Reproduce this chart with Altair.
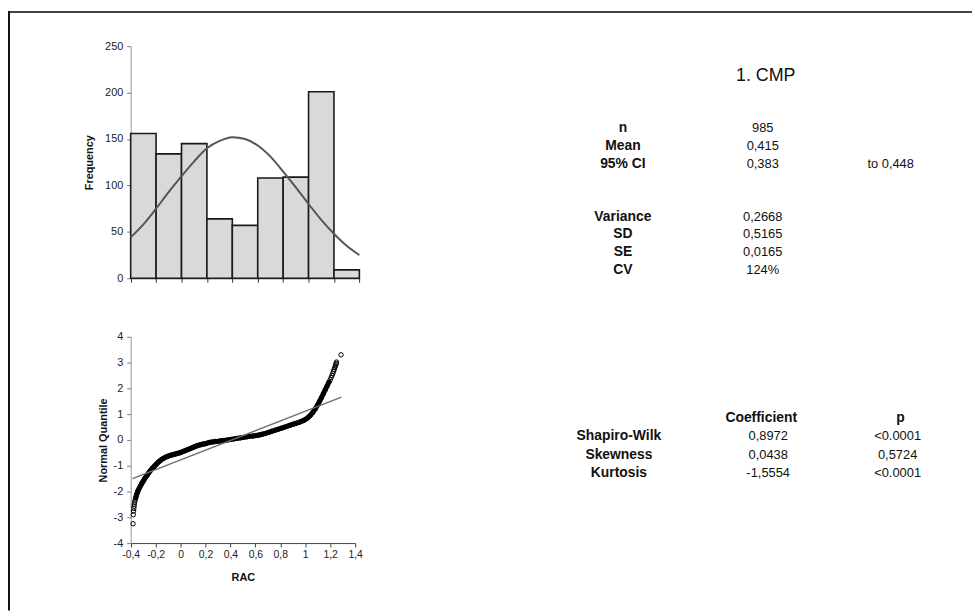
import altair as alt
import pandas as pd

# ---------------- data ----------------
# Histogram of RAC
bin_start = [-0.4, -0.2, 0.0, 0.2, 0.4, 0.6, 0.8, 1.0, 1.2]
bin_end = [-0.2, 0.0, 0.2, 0.4, 0.6, 0.8, 1.0, 1.2, 1.4]
frequency = [156, 134, 145, 64, 57, 108, 109, 201, 9]

# Fitted normal curve over the histogram
curve_rac = [-0.4, -0.3, -0.2, -0.1, 0.0, 0.1, 0.2, 0.3, 0.4, 0.5,
             0.6, 0.7, 0.8, 0.9, 1.0, 1.1, 1.2, 1.3, 1.4]
curve_freq = [44, 58, 75, 93, 110, 126, 140, 148, 152, 150,
              143, 131, 115, 98, 80, 63, 48, 35, 25]

# Normal quantile plot (RAC vs normal quantile)
qq_rac = [-0.381, -0.379, -0.377, -0.375, -0.373, -0.371, -0.368, -0.364, -0.360, -0.355,
          -0.350, -0.345, -0.340, -0.330,
          -0.320, -0.310, -0.300, -0.290, -0.280, -0.270, -0.260, -0.250, -0.240, -0.230,
          -0.220, -0.210, -0.200, -0.190, -0.180, -0.170, -0.160, -0.150, -0.135, -0.120,
          -0.105, -0.090, -0.075, -0.060, -0.045, -0.030, -0.015, 0.000, 0.015, 0.030,
          0.045, 0.060, 0.075, 0.090, 0.105, 0.120, 0.135, 0.150, 0.165, 0.180,
          0.195, 0.210, 0.230, 0.255, 0.280, 0.305, 0.330, 0.355, 0.380, 0.405,
          0.430, 0.455, 0.480, 0.505, 0.530, 0.555, 0.580, 0.605, 0.630, 0.655,
          0.680, 0.705, 0.730, 0.755, 0.780, 0.805, 0.830, 0.855, 0.880, 0.905,
          0.930, 0.955, 0.980, 1.000, 1.020, 1.040, 1.060, 1.080, 1.100, 1.115,
          1.130, 1.145, 1.160, 1.175, 1.190, 1.200, 1.208, 1.215, 1.221, 1.227,
          1.232, 1.237, 1.241, 1.245, 1.248, 1.251, 1.287]
qq_quantile = [-3.25, -2.90, -2.76, -2.66, -2.57, -2.49, -2.41, -2.33, -2.25, -2.17,
               -2.09, -2.02, -1.96, -1.86,
               -1.77, -1.68, -1.60, -1.52, -1.45, -1.38, -1.31, -1.24, -1.18, -1.12,
               -1.07, -1.02, -0.97, -0.92, -0.87, -0.83, -0.79, -0.75, -0.71, -0.67,
               -0.64, -0.61, -0.59, -0.57, -0.55, -0.53, -0.51, -0.49, -0.46, -0.43,
               -0.40, -0.37, -0.34, -0.31, -0.28, -0.25, -0.22, -0.20, -0.18, -0.16,
               -0.15, -0.13, -0.10, -0.08, -0.06, -0.05, -0.03, -0.02, 0.00, 0.02,
               0.04, 0.06, 0.08, 0.10, 0.12, 0.14, 0.15, 0.17, 0.19, 0.22,
               0.25, 0.29, 0.33, 0.37, 0.41, 0.45, 0.49, 0.53, 0.57, 0.61,
               0.65, 0.69, 0.74, 0.79, 0.86, 0.95, 1.06, 1.20, 1.36, 1.50,
               1.64, 1.79, 1.94, 2.09, 2.24, 2.33, 2.42, 2.50, 2.58, 2.66,
               2.73, 2.80, 2.86, 2.92, 2.97, 3.02, 3.30]
ref_rac = [-0.385, 1.29]
ref_quantile = [-1.50, 1.66]

# Summary statistics table
chart_title = "1. CMP"
stat_labels = ["n", "Mean", "95% CI", "", "", "Variance", "SD", "SE", "CV"]
stat_values = ["985", "0,415", "0,383", "", "", "0,2668", "0,5165", "0,0165", "124%"]
ci_upper = "to 0,448"

# Normality tests table
test_header = ["Coefficient", "p"]
test_names = ["Shapiro-Wilk", "Skewness", "Kurtosis"]
test_coef = ["0,8972", "0,0438", "-1,5554"]
test_p = ["<0.0001", "0,5724", "<0.0001"]

# ---------------- layout ----------------
W, H = 972, 605
FONT = "Liberation Sans"

hist_df = pd.DataFrame({"start": bin_start, "end": bin_end, "freq": frequency})
curve_df = pd.DataFrame({"rac": curve_rac, "freq": curve_freq})
qq_df = pd.DataFrame({"rac": qq_rac, "q": qq_quantile})
ref_df = pd.DataFrame({"rac": ref_rac, "q": ref_quantile})
edges = bin_start + [bin_end[-1]]

lab_style = dict(grid=False, labelFont=FONT, labelColor="#222", labelOverlap=False,
                 labelFlush=False)
ttl_style = dict(titleFont=FONT, titleFontSize=11, titleFontWeight="bold", titleColor="#111")


def hx():
    return alt.Scale(domain=[-0.4, 1.4], range=[123.7, 354.3], nice=False, zero=False)


def hy():
    return alt.Scale(domain=[0, 250], range=[270, 36], nice=False, zero=False)


def qx():
    return alt.Scale(domain=[-0.4, 1.4], range=[123.7, 350], nice=False, zero=False)


def qy():
    return alt.Scale(domain=[-4, 4], range=[537, 329], nice=False, zero=False)


# --- histogram ---
bars = alt.Chart(hist_df).mark_rect(fill="#d9d9d9", stroke="#1a1a1a", strokeWidth=1.6).encode(
    x=alt.X("start:Q", scale=hx(),
            axis=alt.Axis(orient="bottom", offset=270 - H, values=edges, labels=False,
                          tickSize=4, tickColor="#333", domainColor="#333", title=None,
                          **lab_style)),
    x2="end:Q",
    y=alt.Y("freq:Q", scale=hy(),
            axis=alt.Axis(orient="left", offset=-123.7, values=[0, 50, 100, 150, 200, 250],
                          tickSize=4, tickColor="#777", domainColor="#999", labelFontSize=11,
                          labelPadding=4, title="Frequency", titleX=-41,
                          titleBaseline="middle", **lab_style, **ttl_style)),
    y2=alt.datum(0),
)
curve = alt.Chart(curve_df).mark_line(color="#555", strokeWidth=2, interpolate="monotone").encode(
    x=alt.X("rac:Q", scale=hx(), axis=None),
    y=alt.Y("freq:Q", scale=hy(), axis=None),
)

# --- normal quantile plot ---
qq_band = alt.Chart(qq_df).transform_filter(
    "datum.q > -2.3 && datum.q < 2.3"
).mark_line(color="#000", strokeWidth=5, strokeCap="round").encode(
    x=alt.X("rac:Q", scale=qx(), axis=None),
    y=alt.Y("q:Q", scale=qy(), axis=None),
)
qq_pts = alt.Chart(qq_df).mark_point(shape="circle", filled=False, size=20, strokeWidth=1,
                                     color="#000", opacity=1).encode(
    x=alt.X("rac:Q", scale=qx(),
            axis=alt.Axis(orient="bottom", offset=537 - H,
                          values=[-0.4, -0.2, 0, 0.2, 0.4, 0.6, 0.8, 1.0, 1.2, 1.4],
                          labelExpr="replace(toString(round(datum.value*10)/10), '.', ',')",
                          tickSize=4, tickColor="#444", domainColor="#444", labelPadding=3,
                          labelFontSize=10.5,
                          title="RAC", titleY=35, titleBaseline="middle",
                          **lab_style, **ttl_style)),
    y=alt.Y("q:Q", scale=qy(),
            axis=alt.Axis(orient="left", offset=-123.7, values=list(range(-4, 5)),
                          labelExpr="toString(datum.value)", labelFontSize=11,
                          tickSize=4, tickColor="#777", domainColor="#999", labelPadding=4,
                          title="Normal Quantile", titleX=-27, titleBaseline="middle",
                          **lab_style, **ttl_style)),
)
qq_ref = alt.Chart(ref_df).mark_line(color="#6e6e6e", strokeWidth=1.5).encode(
    x=alt.X("rac:Q", scale=qx(), axis=None),
    y=alt.Y("q:Q", scale=qy(), axis=None),
)

# --- text tables ---
lab_df = pd.DataFrame([{"row": i, "col": 0, "text": t} for i, t in enumerate(stat_labels) if t])
val_df = pd.DataFrame([{"row": i, "col": 1, "text": t} for i, t in enumerate(stat_values) if t])
ext_df = pd.DataFrame([{"row": 2, "col": 2, "text": ci_upper}])
ttl_df = pd.DataFrame([{"row": -3, "col": 1, "text": chart_title}])

hdr_df = pd.DataFrame([{"row": 0, "col": i + 1, "text": t} for i, t in enumerate(test_header)])
name_df = pd.DataFrame([{"row": i + 1, "col": 0, "text": t} for i, t in enumerate(test_names)])
coef_df = pd.DataFrame([{"row": i + 1, "col": 1, "text": t} for i, t in enumerate(test_coef)])
p_df = pd.DataFrame([{"row": i + 1, "col": 2, "text": t} for i, t in enumerate(test_p)])

T1 = dict(xd=[0, 2], xr=[620, 890], yd=[-3, 8], yr=[65.6, 261.4])
T2 = dict(xd=[0, 2], xr=[616, 897], yd=[0, 3], yr=[411, 466.5])


def text_layer(df, t, size, weight="normal", dx=0):
    return alt.Chart(df).mark_text(font=FONT, fontSize=size, fontWeight=weight, color="#111",
                                   align="center", baseline="middle", dx=dx).encode(
        x=alt.X("col:Q", scale=alt.Scale(domain=t["xd"], range=t["xr"], nice=False, zero=False),
                axis=None),
        y=alt.Y("row:Q", scale=alt.Scale(domain=t["yd"], range=t["yr"], nice=False, zero=False),
                axis=None),
        text="text:N",
    )


texts = [
    text_layer(lab_df, T1, 14, "bold"),
    text_layer(val_df, T1, 13, dx=6),
    text_layer(ext_df, T1, 13),
    text_layer(ttl_df, T1, 18, dx=9),
    text_layer(hdr_df, T2, 14, "bold", dx=3),
    text_layer(name_df, T2, 14, "bold"),
    text_layer(coef_df, T2, 13, dx=10),
    text_layer(p_df, T2, 13),
]

# --- frame (top and left edges) ---
frame_top = alt.Chart(pd.DataFrame({"a": [0]})).mark_rule(color="#444", strokeWidth=2).encode(
    x=alt.value(0), x2=alt.value(W), y=alt.value(1.5))
frame_left = alt.Chart(pd.DataFrame({"a": [0]})).mark_rule(color="#111", strokeWidth=2).encode(
    x=alt.value(1), y=alt.value(0.5), y2=alt.value(H))

chart = alt.layer(frame_top, frame_left, bars, curve, qq_band, qq_pts, qq_ref, *texts).resolve_scale(
    x="independent", y="independent"
).resolve_axis(
    x="independent", y="independent"
).properties(
    width=W, height=H, padding=0, background="white",
    autosize=alt.AutoSizeParams(type="none"),
).configure_view(stroke=None)

chart.save("out.html", embed_options={"renderer": "svg", "actions": False})
